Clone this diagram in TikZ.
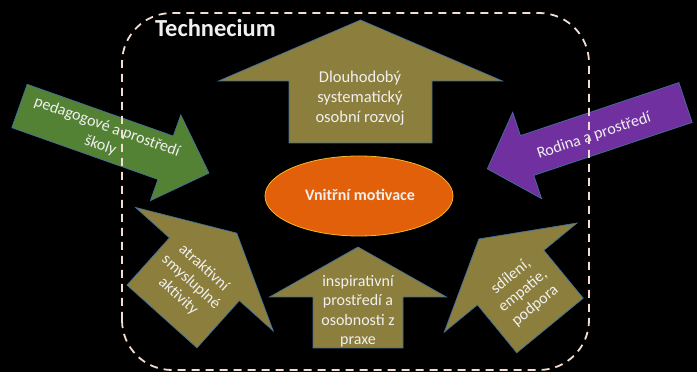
\documentclass[tikz,border=0pt]{standalone}
\usepackage{fontspec}
\usetikzlibrary{shapes.geometric}
\setmainfont{Carlito}
\definecolor{olivefill}{RGB}{140,126,60}
\definecolor{greenfill}{RGB}{84,130,53}
\definecolor{purplefill}{RGB}{112,48,160}
\definecolor{orangefill}{RGB}{226,96,10}
\definecolor{orangeborder}{RGB}{250,180,40}
\definecolor{arrowborder}{RGB}{65,113,156}
\definecolor{dashcol}{RGB}{244,221,208}
\definecolor{txt}{RGB}{240,240,240}
\tikzset{
  arrowshape/.style={draw=arrowborder, line width=0.7pt, line join=miter},
  arrtext/.style={text=txt, align=center, font=\fontsize{16}{19.5}\selectfont, inner sep=0pt},
}
% #1 tail x, #2 tail y, #3 angle, #4 length, #5 shaft half width, #6 head half width, #7 head length, #8 fill
\newcommand{\bigarrowshape}[8]{%
  \begin{scope}[shift={(#1,#2)}, rotate=#3]
    \draw[arrowshape, fill=#8] (0,-#5) -- ({#4-#7},-#5) -- ({#4-#7},-#6) -- (#4,0)
      -- ({#4-#7},#6) -- ({#4-#7},#5) -- (0,#5) -- cycle;
  \end{scope}}
\begin{document}
\begin{tikzpicture}[x=1pt,y=1pt]
\fill[black] (0,0) rectangle (697,372);
\useasboundingbox (0,0) rectangle (697,372);
% arrows
\bigarrowshape{360.5}{229}{90}{123}{71.5}{142}{61}{olivefill}
\bigarrowshape{358}{24}{90}{101}{45}{88.5}{50}{olivefill}
\bigarrowshape{19.5}{266}{-19.5}{201}{23}{45.5}{46}{greenfill}
\bigarrowshape{685.5}{269.5}{198.5}{209}{21}{45.5}{42}{purplefill}
\bigarrowshape{162}{55.5}{48.1}{112}{47}{92.5}{48.5}{olivefill}
\bigarrowshape{550}{46.5}{129.4}{112}{43}{86}{50}{olivefill}
% ellipse
\node[ellipse, draw=orangeborder, line width=0.8pt, fill=orangefill, minimum width=188pt, minimum height=80pt, inner sep=0pt] (core) at (359,176) {};
\node[text=txt, font=\bfseries\fontsize{16}{19}\selectfont] (coretext) at (360,177) {Vnitřní motivace};
% texts
\node[arrtext, font=\fontsize{16.5}{20}\selectfont] (ttop) at (360,274) {Dlouhodobý\\systematický\\osobní rozvoj};
\node[arrtext] (tbottom) at (358,60.5) {inspirativní\\prostředí a\\osobnosti z\\praxe};
\node[arrtext, rotate=-19.5, font=\fontsize{16}{20}\selectfont] (tgreen) at (103.7,235.5) {pedagogové a prostředí\\školy};
\node[arrtext, rotate=18.5] (tpurple) at (594,236) {Rodina a prostředí};
\node[arrtext, rotate=-42, font=\fontsize{16}{19}\selectfont] (tleft) at (191,90) {atraktivní\\smysluplné\\aktivity};
\node[arrtext, rotate=39.4, font=\fontsize{16}{19}\selectfont] (tright) at (523,81) {sdílení,\\empatie,\\podpora};
% title
\node[anchor=base west, text=txt, font=\bfseries\fontsize{24.5}{28}\selectfont, inner sep=0pt] (title) at (155,335) {Technecium};
% dashed frame
\draw[dashcol, line width=1.8pt, dash pattern=on 8pt off 6pt, rounded corners=50pt] (122,2) rectangle (589,359);
\end{tikzpicture}
\end{document}
